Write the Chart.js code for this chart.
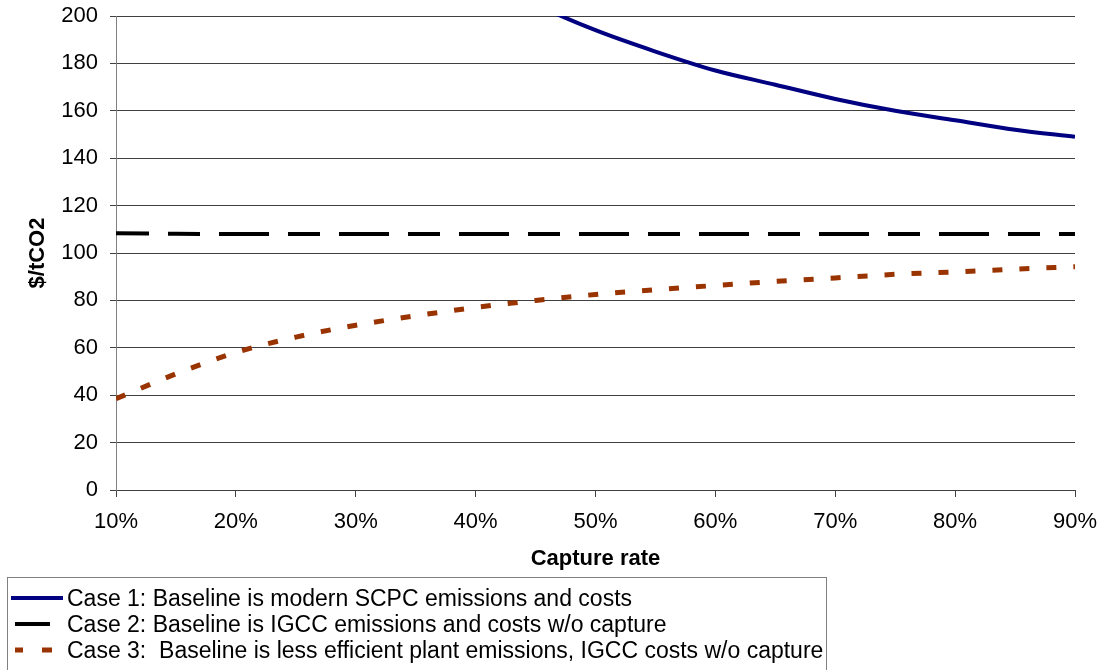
<!DOCTYPE html>
<html>
<head>
<meta charset="utf-8">
<script src="https://cdn.jsdelivr.net/npm/chart.js@4/dist/chart.umd.min.js"></script>
<style>
  body { margin: 0; background: #fff; font-family: "Liberation Sans", Arial, sans-serif; }
  #wrap { position: relative; width: 1101px; height: 670px; overflow: hidden; }
  #legend {
    position: absolute; left: 7px; top: 577px; width: 820px; height: 110px;
    border: 1px solid #808080; box-sizing: border-box; padding-top: 7px;
  }
  .row { display: flex; align-items: center; height: 26px; font-size: 23px; white-space: pre; color: #000; }
  .row canvas { flex: none; }
</style>
</head>
<body>
<div id="wrap">
  <canvas id="costChart" width="1101" height="670"></canvas>
  <div id="legend"></div>
</div>
<script>
// capture rate in %
const captureRate = [10, 15, 20, 25, 30, 35, 40, 45, 50, 55, 60, 65, 70, 75, 80, 85, 90];
// $/tCO2, case 1 runs off the top of the chart below ~47%
const case1 = [597, 429, 345, 295, 261, 237, 219, 205, 194, 185, 177, 171, 165, 160, 156, 152, 149];
const case2 = [108.3, 108.1, 108, 108, 108, 108, 108, 108, 108, 108, 108, 108, 108, 108, 108, 108, 108];
const case3 = [38.5, 49, 58, 64.5, 69.5, 73.5, 77, 80, 82.5, 84.5, 86.3, 88, 89.5, 91, 92, 93.2, 94.2];
const yTicks = [0, 20, 40, 60, 80, 100, 120, 140, 160, 180, 200];

const labels = [
  'Case 1: Baseline is modern SCPC emissions and costs',
  'Case 2: Baseline is IGCC emissions and costs w/o capture',
  'Case 3:  Baseline is less efficient plant emissions, IGCC costs w/o capture'
];

const toPoints = arr => arr.map((v, i) => ({ x: captureRate[i], y: v }));

const font = { family: '"Liberation Sans", Arial, sans-serif', size: 22 };

const ctx = document.getElementById('costChart').getContext('2d');
const chart = new Chart(ctx, {
  type: 'line',
  data: {
    datasets: [{
      label: labels[0],
      data: toPoints(case1),
      borderColor: '#000080',
      borderWidth: 4,
      cubicInterpolationMode: 'monotone',
      pointRadius: 0,
      clip: 0
    }, {
      label: labels[1],
      data: toPoints(case2),
      borderColor: '#000000',
      borderWidth: 4,
      borderDash: [50, 19, 32, 19],
      borderDashOffset: 17,
      borderCapStyle: 'butt',
      pointRadius: 0,
      clip: 0
    }, {
      label: labels[2],
      data: toPoints(case3),
      borderColor: '#993300',
      borderWidth: 5,
      borderDash: [10, 17],
      cubicInterpolationMode: 'monotone',
      pointRadius: 0,
      clip: 0
    }]
  },
  options: {
    responsive: false,
    animation: false,
    layout: { padding: { left: 0, right: 26, top: 16, bottom: 90 } },
    plugins: { legend: { display: false }, tooltip: { enabled: false } },
    scales: {
      x: {
        type: 'linear',
        min: 10, max: 90,
        afterFit: axis => { axis.height = 90; axis.paddingLeft = 0; axis.paddingRight = 0; },
        grid: { drawOnChartArea: false, drawTicks: true, tickLength: 7, color: '#404040' },
        border: { color: '#404040' },
        ticks: { stepSize: 10, padding: 12, color: '#000', font: font, maxRotation: 0, callback: v => v + '%' },
        title: { display: true, text: 'Capture rate', color: '#000', font: { ...font, weight: 'bold' }, padding: { top: 0, bottom: 8 } }
      },
      y: {
        min: 0, max: 200,
        afterBuildTicks: axis => { axis.ticks = yTicks.map(v => ({ value: v })); },
        afterFit: axis => { axis.width = 116; axis.paddingTop = 0; axis.paddingBottom = 0; },
        grid: { color: '#404040', tickLength: 6 },
        border: { color: '#808080' },
        ticks: { padding: 12, color: '#000', font: font },
        title: { display: true, text: '$/tCO2', color: '#000', font: { ...font, weight: 'bold' }, padding: { top: 25, bottom: 10 } }
      }
    }
  }
});

// legend box below the chart, built from the datasets
const legend = document.getElementById('legend');
chart.data.datasets.forEach((ds, i) => {
  const row = document.createElement('div');
  row.className = 'row';
  const c = document.createElement('canvas');
  c.width = 59; c.height = 26;
  const g = c.getContext('2d');
  g.strokeStyle = ds.borderColor;
  g.lineWidth = ds.borderWidth;
  g.beginPath();
  if (i === 0) { g.moveTo(3, 13); g.lineTo(55, 13); }
  else if (i === 1) { g.moveTo(7, 13); g.lineTo(42, 13); }
  else { g.moveTo(7, 13); g.lineTo(15, 13); g.moveTo(34, 13); g.lineTo(44, 13); }
  g.stroke();
  row.appendChild(c);
  const t = document.createElement('span');
  t.textContent = ds.label;
  row.appendChild(t);
  legend.appendChild(row);
});
</script>
</body>
</html>
